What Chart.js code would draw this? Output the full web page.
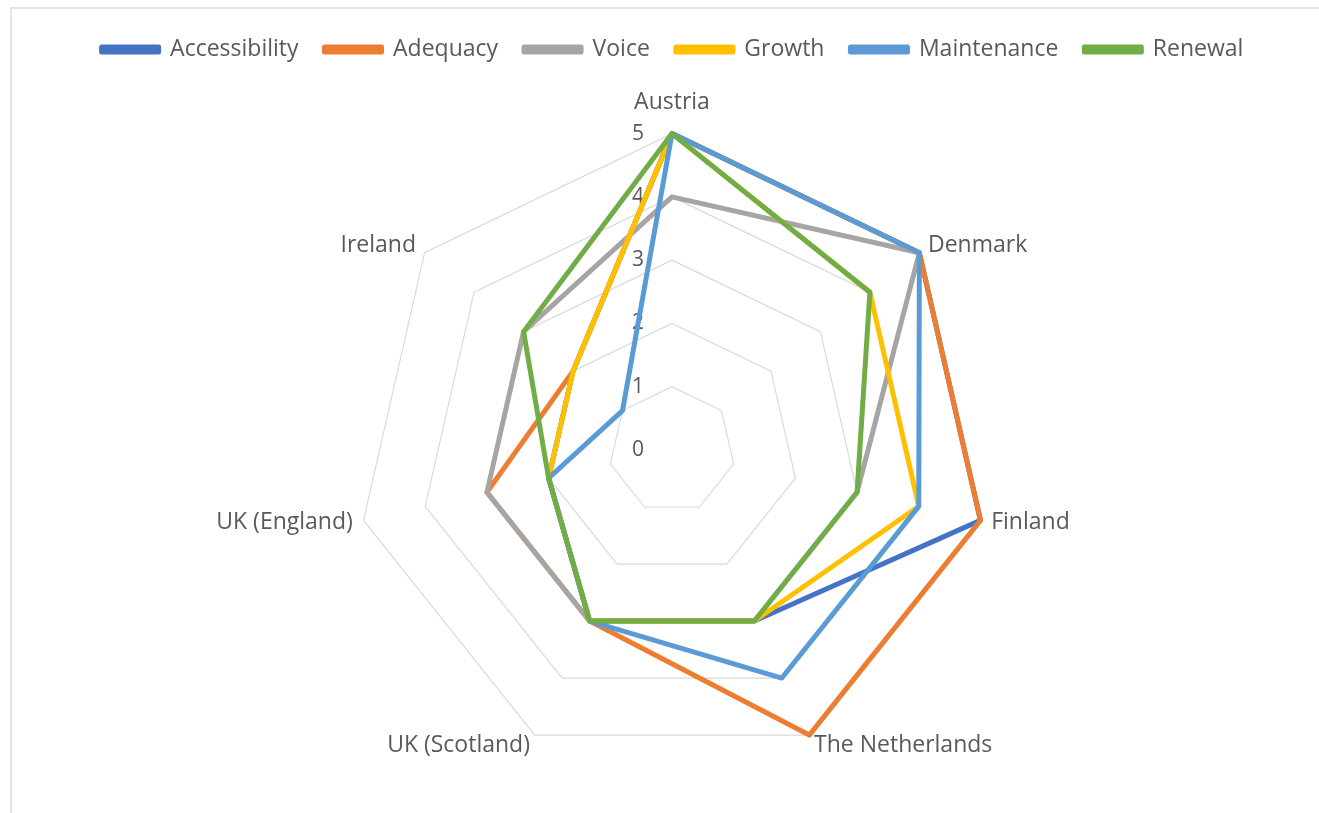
<!DOCTYPE html>
<html>
<head>
<meta charset="utf-8">
<script src="https://cdn.jsdelivr.net/npm/chart.js@4"></script>
<style>
  html, body { margin: 0; padding: 0; background: #fff; }
  #frame {
    position: absolute; left: 10px; top: 7px; width: 1309px; height: 806px;
    border-top: 2px solid #e4e4e4; border-left: 2px solid #e4e4e4;
    box-sizing: border-box;
  }
  #frame canvas { display: block; }
</style>
</head>
<body>
<div id="frame"><canvas id="myChart"></canvas></div>
<script>
'use strict'
// countries round the radar
var countries = ['Austria', 'Denmark', 'Finland', 'The Netherlands', 'UK (Scotland)', 'UK (England)', 'Ireland'];
// scores per series
var accessibility = [5, 5, 5, 3, 3, 2, 2];
var adequacy = [5, 5, 5, 5, 3, 3, 2];
var voice = [4, 5, 3, 3, 3, 3, 3];
var growth = [5, 4, 4, 3, 3, 2, 2];
var maintenance = [5, 5, 4, 4, 3, 2, 1];
var renewal = [5, 4, 3, 3, 3, 2, 3];
var tickValues = [0, 1, 2, 3, 4, 5];

var textGrey = '#595959';
var fontFam = '"Open Sans", sans-serif';
var labelFont = '23px ' + fontFam;

function series(name, values, color, order) {
    return {
        label: name,
        data: values,
        borderColor: color,
        backgroundColor: color,
        borderWidth: 5,
        fill: false,
        pointRadius: 0,
        pointHoverRadius: 0,
        borderJoinStyle: 'round',
        order: order
    };
}

// the radial ticks sit left of the Austria axis, "0" included
var tickLabels = {
    id: 'tickLabels',
    beforeDatasetsDraw(chart) {
        var s = chart.scales.r;
        var ctx = chart.ctx;
        ctx.save();
        ctx.font = '21px ' + fontFam;
        ctx.fillStyle = textGrey;
        ctx.textAlign = 'center';
        ctx.textBaseline = 'middle';
        tickValues.forEach(function (v) {
            var p = s.getPointPositionForValue(0, v);
            ctx.fillText(String(v), p.x - 34, p.y);
        });
        ctx.restore();
    }
};

// country names placed the excel way: beside the outer corner, middle aligned
var countryLabels = {
    id: 'countryLabels',
    afterDatasetsDraw(chart) {
        var s = chart.scales.r;
        var ctx = chart.ctx;
        ctx.save();
        ctx.font = labelFont;
        ctx.fillStyle = textGrey;
        countries.forEach(function (name, i) {
            var p = s.getPointPosition(i, s.drawingArea);
            var dx = (p.x - s.xCenter) / s.drawingArea;
            var dy = (p.y - s.yCenter) / s.drawingArea;
            if (Math.abs(dx) < 0.05) {
                ctx.textAlign = 'center';
                ctx.textBaseline = 'bottom';
                ctx.fillText(name, p.x, p.y - 20);
                return;
            }
            ctx.textAlign = dx > 0 ? 'left' : 'right';
            ctx.textBaseline = 'middle';
            ctx.fillText(name, p.x + dx * 11, p.y + dy * 11);
        });
        ctx.restore();
    }
};

// a bit more room under the legend
var legendGap = {
    id: 'legendGap',
    beforeInit(chart) {
        var fit = chart.legend.fit;
        chart.legend.fit = function () {
            fit.call(this);
            this.height += 10;
        };
    }
};

var ctx = document.getElementById('myChart').getContext('2d');
var chart = new Chart(ctx, {
    type: 'radar',
    data: {
        labels: countries,
        datasets: [
            series('Accessibility', accessibility, '#4472C4', 6),
            series('Adequacy', adequacy, '#ED7D31', 5),
            series('Voice', voice, '#A5A5A5', 4),
            series('Growth', growth, '#FFC000', 3),
            series('Maintenance', maintenance, '#5B9BD5', 2),
            series('Renewal', renewal, '#70AD47', 1)
        ]
    },
    options: {
        responsive: true,
        maintainAspectRatio: false,
        animation: false,
        layout: { padding: { top: 3, bottom: 27, left: 14, right: 0 } },
        plugins: {
            tooltip: { enabled: false },
            legend: {
                position: 'top',
                labels: {
                    boxWidth: 57,
                    boxHeight: 5,
                    padding: 26,
                    color: textGrey,
                    font: { family: fontFam, size: 23 },
                    sort: function (a, b) { return a.datasetIndex - b.datasetIndex; }
                }
            }
        },
        scales: {
            r: {
                min: 0,
                max: 5,
                ticks: { stepSize: 1, display: false },
                angleLines: { display: false },
                grid: { color: '#d9d9d9', lineWidth: 1.2 },
                pointLabels: {
                    // kept for the layout fit, drawn by countryLabels instead
                    color: 'rgba(0,0,0,0)',
                    padding: 8,
                    font: { family: fontFam, size: 23 }
                }
            }
        }
    },
    plugins: [tickLabels, countryLabels, legendGap]
});
</script>
</body>
</html>
